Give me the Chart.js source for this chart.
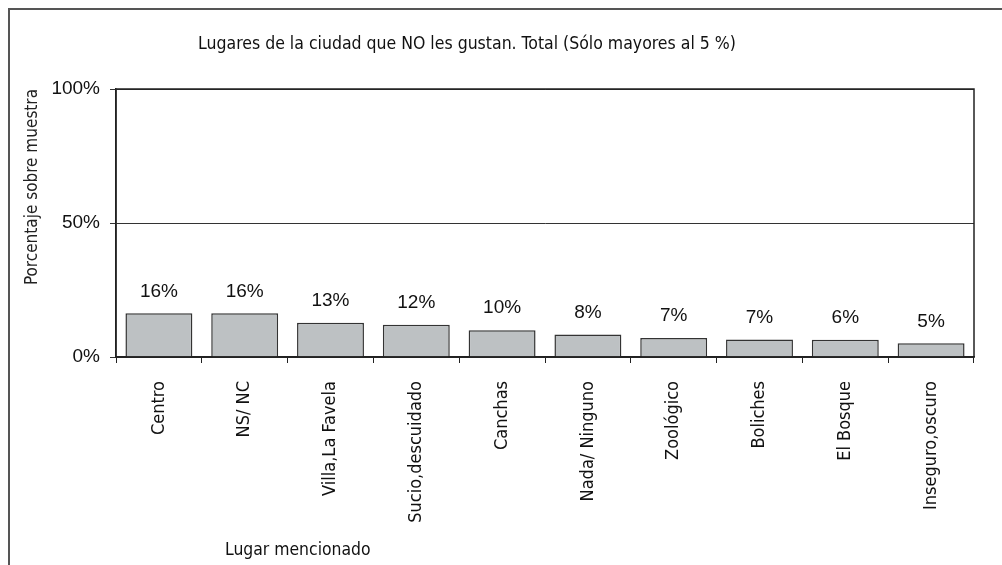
<!DOCTYPE html>
<html><head><meta charset="utf-8">
<script src="https://cdn.jsdelivr.net/npm/chart.js@4.4.1/dist/chart.umd.min.js"></script>
<style>html,body{margin:0;padding:0;background:#fff}#wrap{width:1002px;height:565px;position:relative;overflow:hidden}</style>
</head><body><div id="wrap"><canvas id="c" width="1002" height="565"></canvas></div>
<script>
const categories = ["Centro","NS/ NC","Villa,La Favela","Sucio,descuidado","Canchas","Nada/ Ninguno","Zoológico","Boliches","El Bosque","Inseguro,oscuro"];
const values = [16.3, 16.3, 12.8, 12.0, 10.0, 8.4, 7.1, 6.5, 6.4, 5.1];
const yTickValues = [0, 50, 100];
const chartTitle = "Lugares de la ciudad que NO les gustan. Total (Sólo mayores al 5 %)";
const yAxisTitle = "Porcentaje sobre muestra";
const xAxisTitle = "Lugar mencionado";

const condensed = '"DejaVu Sans Condensed", "Liberation Sans Narrow", "DejaVu Sans", sans-serif';
const arial = '"Liberation Sans", Arial, sans-serif';

const decor = {
  id: 'decor',
  beforeDraw(chart) {
    const ctx = chart.ctx;
    ctx.save();
    ctx.fillStyle = '#fff';
    ctx.fillRect(0, 0, chart.width, chart.height);
    ctx.strokeStyle = '#555';
    ctx.lineWidth = 2;
    ctx.strokeRect(9, 9, chart.width + 20, chart.height + 20);
    ctx.restore();
  },
  afterDatasetsDraw(chart) {
    const ctx = chart.ctx;
    const meta = chart.getDatasetMeta(0);
    ctx.save();
    ctx.font = '19px ' + arial;
    ctx.fillStyle = '#111';
    ctx.textAlign = 'center';
    ctx.textBaseline = 'middle';
    meta.data.forEach((bar, i) => {
      ctx.fillText(Math.round(values[i]) + '%', bar.x, bar.y - 22);
    });
    ctx.restore();
  },
  afterDraw(chart) {
    const ctx = chart.ctx;
    const a = chart.chartArea;
    ctx.save();
    ctx.strokeStyle = '#222';
    ctx.lineWidth = 1.5;
    ctx.strokeRect(a.left, a.top, a.right - a.left, a.bottom - a.top);
    ctx.fillStyle = '#111';
    ctx.textBaseline = 'middle';
    ctx.font = '17.5px ' + condensed;
    ctx.textAlign = 'center';
    ctx.fillText(chartTitle, 467, 44);
    ctx.font = '17.4px ' + condensed;
    ctx.textAlign = 'left';
    ctx.fillText(xAxisTitle, 225, 550);
    ctx.restore();
  }
};

new Chart(document.getElementById('c'), {
  type: 'bar',
  data: {
    labels: categories,
    datasets: [{
      data: values,
      backgroundColor: '#BDC1C3',
      borderColor: '#333',
      borderWidth: 1.5,
      barPercentage: 0.78,
      categoryPercentage: 1.0
    }]
  },
  options: {
    responsive: false,
    animation: false,
    devicePixelRatio: 1,
    layout: { padding: { top: 89, left: 0, right: 28, bottom: 0 } },
    plugins: { legend: { display: false }, title: { display: false }, tooltip: { enabled: false } },
    scales: {
      x: {
        afterFit(s) { s.height = 208; },
        grid: { offset: true, drawOnChartArea: false, tickLength: 6, color: '#222' },
        border: { color: '#222', width: 1.5 },
        ticks: { minRotation: 90, maxRotation: 90, padding: 18, color: '#111', font: { family: condensed, size: 18 }, autoSkip: false }
      },
      y: {
        min: 0, max: 100,
        afterFit(s) { s.width = 116; },
        afterBuildTicks(s) { s.ticks = yTickValues.map(v => ({ value: v })); },
        grid: { color: '#333', tickLength: 6, lineWidth: 1 },
        border: { color: '#222', width: 1.5 },
        ticks: { padding: 10, color: '#111', font: { family: arial, size: 19 }, callback: v => v + '%' },
        title: { display: true, text: yAxisTitle, align: 'end', color: '#222', font: { family: condensed, size: 17 }, padding: { top: 22, bottom: 0 } }
      }
    }
  },
  plugins: [decor]
});
</script>
</body></html>
